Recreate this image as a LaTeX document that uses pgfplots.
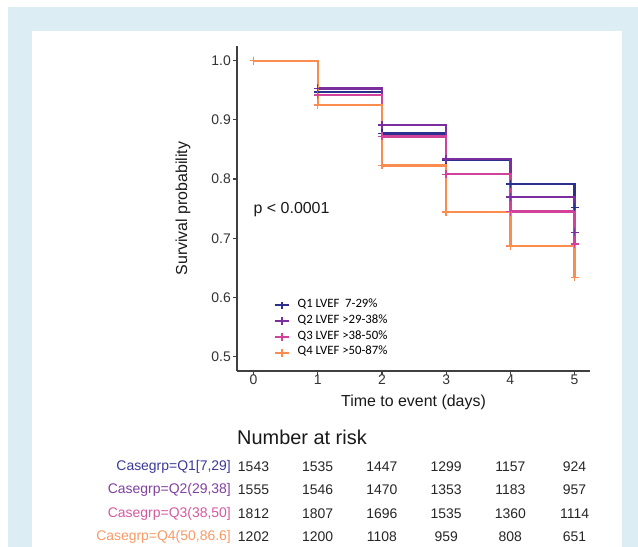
\documentclass[border=0pt]{standalone}
\usepackage{fontspec}
\setmainfont{Liberation Sans}
\newfontfamily\carlito{Carlito}
\usepackage{pgfplots}
\pgfplotsset{compat=1.18}
\definecolor{cQa}{HTML}{2D2F8E}
\definecolor{cQb}{HTML}{7B2E9E}
\definecolor{cQc}{HTML}{D2429A}
\definecolor{cQd}{HTML}{F98C4E}
\definecolor{tQa}{HTML}{3A3A9A}
\definecolor{tQb}{HTML}{8040A0}
\definecolor{tQc}{HTML}{D45AA0}
\definecolor{tQd}{HTML}{F99A66}
\definecolor{bgblue}{HTML}{DCEEF3}
\pgfplotsset{
  kmleg/.style={legend image code/.code={%
    \path[draw=none, fill=none] (0bp,0bp) -- (23bp,0bp);
    \draw[##1, mark=none, line width=2bp] (0bp,0bp) -- (14bp,0bp);
    \draw[##1, mark=none, line width=2bp] (7bp,-3.8bp) -- (7bp,3.8bp);}},
  km/.style={const plot, line width=2.3bp, color=#1, mark=+, mark size=4bp,
    mark options={solid, line width=1.5bp}, kmleg}
}
\begin{document}
\begin{tikzpicture}
\path[use as bounding box, fill=white] (0,0) rectangle (638bp,547bp);
\fill[bgblue] (8bp,0) rectangle (638bp,540bp);
\fill[white] (32bp,0) rectangle (622bp,516bp);
\begin{axis}[
  at={(237bp,176bp)}, anchor=south west,
  scale only axis, width=353bp, height=325bp,
  xmin=-0.257, xmax=5.24, ymin=0.4758, ymax=1.0248,
  axis x line*=bottom, axis y line*=left,
  axis line style={-, line width=1.2bp, black!75},
  xtick={0,1,2,3,4,5}, ytick={0.5,0.6,0.7,0.8,0.9,1.0},
  tick align=outside, major tick length=4bp,
  tick style={line width=1.2bp, black!75},
  /pgf/number format/assume math mode=true,
  ticklabel style={font=\fontsize{14}{16}\selectfont, text=black!80},
  xticklabel style={inner sep=0pt, yshift=0bp},
  yticklabel style={inner sep=0pt, xshift=-2bp, /pgf/number format/.cd, fixed, precision=1, fixed zerofill},
  xlabel={Time to event (days)}, ylabel={Survival probability},
  every axis y label/.style={at={(rel axis cs:0,0.5)}, xshift=-54bp, rotate=90, anchor=center,
    font=\fontsize{16}{18}\selectfont, text=black!90},
  every axis x label/.style={at={(rel axis cs:0.5,0)}, yshift=-31bp, anchor=center,
    font=\fontsize{16}{18}\selectfont, text=black!90},
  clip=false,
  legend cell align=left,
  legend style={at={(rel axis cs:0.1034,0.227)}, anchor=north west, draw=none, fill=none,
    inner sep=0pt, font=\carlito\fontsize{12.8}{14}\selectfont, row sep=0bp,
    nodes={inner sep=0pt, text height=10bp, text depth=5.8bp}},
]
\addplot[km=cQa] coordinates {(0,1.000) (1,0.947) (2,0.877) (3,0.832) (4,0.792) (5,0.752)};
\addlegendentry{Q1 LVEF~ 7-29\%}
\addplot[km=cQb] coordinates {(0,1.000) (1,0.953) (2,0.891) (3,0.834) (4,0.770) (5,0.710)};
\addlegendentry{Q2 LVEF >29-38\%}
\addplot[km=cQc] coordinates {(0,1.000) (1,0.942) (2,0.872) (3,0.808) (4,0.745) (5,0.690)};
\addlegendentry{Q3 LVEF >38-50\%}
\addplot[km=cQd] coordinates {(0,1.000) (1,0.925) (2,0.823) (3,0.744) (4,0.687) (5,0.634)};
\addlegendentry{Q4 LVEF >50-87\%}
\node[anchor=west, inner sep=0, font=\fontsize{16}{18}\selectfont, text=black!90] at (axis cs:0,0.748) {p < 0.0001};
% risk table
\node[anchor=west, inner sep=0, font=\fontsize{20}{22}\selectfont, text=black!90] at ([yshift=-66bp]rel axis cs:0,0) {Number at risk};
\begin{scope}[every node/.style={font=\fontsize{14}{16}\selectfont, inner sep=0, text=black!85}]
\node[anchor=east, text=tQa] at ([xshift=-6bp,yshift=-96bp]rel axis cs:0,0) {Casegrp=Q1[7,29]};
\node[anchor=east, text=tQb] at ([xshift=-6bp,yshift=-119bp]rel axis cs:0,0) {Casegrp=Q2(29,38]};
\node[anchor=east, text=tQc] at ([xshift=-6bp,yshift=-143bp]rel axis cs:0,0) {Casegrp=Q3(38,50]};
\node[anchor=east, text=tQd] at ([xshift=-6bp,yshift=-166bp]rel axis cs:0,0) {Casegrp=Q4(50,86.6]};
\node at ([yshift=-96bp]axis cs:0,0.4758) {1543};
\node at ([yshift=-96bp]axis cs:1,0.4758) {1535};
\node at ([yshift=-96bp]axis cs:2,0.4758) {1447};
\node at ([yshift=-96bp]axis cs:3,0.4758) {1299};
\node at ([yshift=-96bp]axis cs:4,0.4758) {1157};
\node at ([yshift=-96bp]axis cs:5,0.4758) {924};
\node at ([yshift=-119bp]axis cs:0,0.4758) {1555};
\node at ([yshift=-119bp]axis cs:1,0.4758) {1546};
\node at ([yshift=-119bp]axis cs:2,0.4758) {1470};
\node at ([yshift=-119bp]axis cs:3,0.4758) {1353};
\node at ([yshift=-119bp]axis cs:4,0.4758) {1183};
\node at ([yshift=-119bp]axis cs:5,0.4758) {957};
\node at ([yshift=-143bp]axis cs:0,0.4758) {1812};
\node at ([yshift=-143bp]axis cs:1,0.4758) {1807};
\node at ([yshift=-143bp]axis cs:2,0.4758) {1696};
\node at ([yshift=-143bp]axis cs:3,0.4758) {1535};
\node at ([yshift=-143bp]axis cs:4,0.4758) {1360};
\node at ([yshift=-143bp]axis cs:5,0.4758) {1114};
\node at ([yshift=-166bp]axis cs:0,0.4758) {1202};
\node at ([yshift=-166bp]axis cs:1,0.4758) {1200};
\node at ([yshift=-166bp]axis cs:2,0.4758) {1108};
\node at ([yshift=-166bp]axis cs:3,0.4758) {959};
\node at ([yshift=-166bp]axis cs:4,0.4758) {808};
\node at ([yshift=-166bp]axis cs:5,0.4758) {651};
\end{scope}
\end{axis}
\end{tikzpicture}
\end{document}
